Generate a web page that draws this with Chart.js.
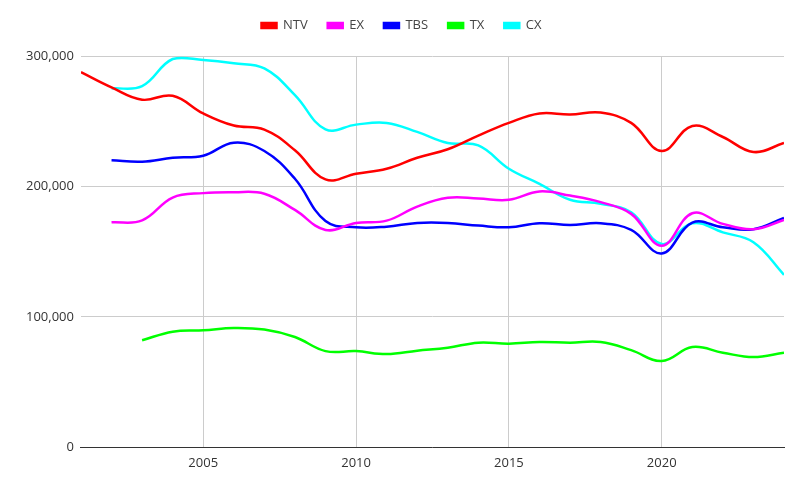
<!DOCTYPE html>
<html lang="en">
<head>
    <meta charset="UTF-8">
    <title>Chart</title>
    <script src="https://cdn.jsdelivr.net/npm/chart.js"></script>
    <style>
        body { margin: 0; background: #fff; }
        #wrap { width: 802px; height: 480px; }
    </style>
</head>
<body>
    <div id="wrap"><canvas id="chart"></canvas></div>
    <script>
        const years = [2001, 2002, 2003, 2004, 2005, 2006, 2007, 2008, 2009, 2010, 2011, 2012,
                       2013, 2014, 2015, 2016, 2017, 2018, 2019, 2020, 2021, 2022, 2023, 2024];
        const xTicks = [2005, 2010, 2015, 2020];

        const ntv = [287700, 276000, 266500, 269500, 256000, 246700, 243600, 227700, 205400, 209800, 213600, 222000,
                     228500, 239000, 248700, 255900, 255100, 256700, 248700, 227200, 246400, 237900, 226400, 233300];
        const ex  = [null, 172500, 174000, 191500, 194900, 195600, 194400, 182000, 166700, 172000, 173800, 184600,
                     191300, 190800, 189800, 196200, 193000, 188000, 179000, 154600, 179500, 171300, 167200, 174400];
        const tbs = [null, 220000, 219000, 222000, 223600, 233600, 227200, 205900, 173500, 168700, 169200, 172000,
                     172000, 170000, 168700, 171800, 170500, 171800, 166700, 148700, 172300, 168700, 167200, 175900];
        const tx  = [null, null, 82100, 88700, 89700, 91500, 90300, 84600, 73800, 73800, 71500, 74100,
                     76400, 80300, 79500, 80800, 80300, 80800, 74600, 66200, 76900, 72600, 69200, 72600];
        const cx  = [null, 275100, 276900, 297700, 296900, 294400, 290500, 270000, 243800, 247400, 248700, 241800,
                     233300, 231500, 213600, 202000, 189800, 186700, 180200, 155900, 171800, 164800, 157200, 132300];

        function points(values) {
            return years.map((y, i) => ({ x: y, y: values[i] }));
        }

        function series(label, values, color) {
            return {
                label: label,
                data: points(values),
                borderColor: color,
                backgroundColor: color,
                borderWidth: 2.5,
                pointRadius: 0,
                tension: 0.4,
                fill: false
            };
        }

        // push the plot area down a bit below the legend
        const legendGap = {
            id: 'legendGap',
            beforeInit(chart) {
                const fit = chart.legend.fit;
                chart.legend.fit = function () {
                    fit.bind(chart.legend)();
                    this.height += 14;
                };
            }
        };

        Chart.defaults.font.family = '"Open Sans", sans-serif';
        Chart.defaults.font.size = 13;
        Chart.defaults.color = '#444';

        new Chart(document.getElementById('chart'), {
            type: 'line',
            data: {
                datasets: [
                    series('NTV', ntv, '#ff0000'),
                    series('EX', ex, '#ff00ff'),
                    series('TBS', tbs, '#0000ff'),
                    series('TX', tx, '#00ff00'),
                    series('CX', cx, '#00ffff')
                ]
            },
            plugins: [legendGap],
            options: {
                responsive: true,
                maintainAspectRatio: false,
                animation: false,
                layout: { padding: { left: 19, right: 18, top: -1, bottom: 1 } },
                plugins: {
                    legend: {
                        position: 'top',
                        labels: { boxWidth: 15, boxHeight: 5, padding: 20, color: '#444' }
                    },
                    tooltip: { enabled: false }
                },
                scales: {
                    x: {
                        type: 'linear',
                        min: 2001,
                        max: 2024,
                        afterBuildTicks: (scale) => {
                            scale.ticks = xTicks.map(v => ({ value: v }));
                        },
                        ticks: {
                            callback: (v) => String(v),
                            color: '#333',
                            padding: 8
                        },
                        grid: { color: '#ccc', drawTicks: false },
                        border: { color: '#333', width: 1 }
                    },
                    y: {
                        min: 0,
                        max: 300000,
                        ticks: { stepSize: 100000, color: '#333', padding: 7 },
                        grid: { color: '#ccc', drawTicks: false },
                        border: { display: false }
                    }
                }
            }
        });
    </script>
</body>
</html>
